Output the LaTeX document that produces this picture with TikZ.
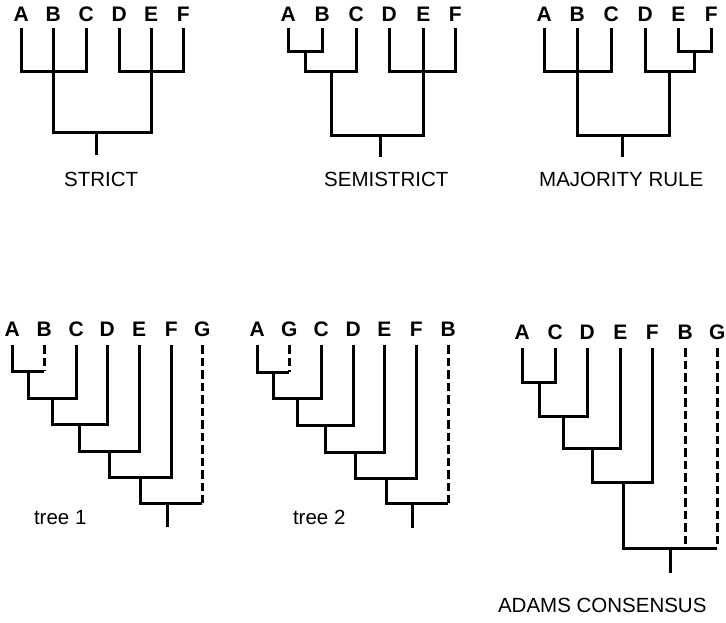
\documentclass[tikz,border=0pt]{standalone}
\usepackage{fontspec}
\setmainfont{Liberation Sans}

\begin{document}
\begin{tikzpicture}[x=1pt, y=-1pt,
    line width=2.5pt,
    font=\fontsize{20.5}{24}\selectfont,
    taxon/.style={font=\fontsize{21}{24}\selectfont\bfseries,
      anchor=south,
      inner xsep=0pt,
      inner ysep=8pt,
      text depth=0pt},
    toptaxon/.style={taxon, inner ysep=5.5pt},
    title/.style={anchor=base, inner sep=0pt},
    branch/.style={to path={|- (\tikztotarget)}},
    missing/.style={dash pattern=on 8.5pt off 4pt}]
    \path [use as bounding box] (-0.25,-0.25) rectangle (725.75,621.75);

    % strict
    \node[name=stA, toptaxon] at (21,28) {A};
    \node[name=stB, toptaxon] at (53,28) {B};
    \node[name=stC, toptaxon] at (86,28) {C};
    \node[name=stD, toptaxon] at (119,28) {D};
    \node[name=stE, toptaxon] at (151,28) {E};
    \node[name=stF, toptaxon] at (183,28) {F};
    \coordinate (stabc) at (53,71);
    \coordinate (stdef) at (151,71);
    \coordinate (stroot) at (96,132);
    \coordinate (stbase) at (96,155);
    \node[name=sttitle, title] at (101,186) {STRICT};

    \path (stA.south) edge[branch] (stabc);
    \path (stB.south) edge[branch] (stabc);
    \path (stC.south) edge[branch] (stabc);
    \path (stD.south) edge[branch] (stdef);
    \path (stE.south) edge[branch] (stdef);
    \path (stF.south) edge[branch] (stdef);
    \path (stabc) edge[branch] (stroot);
    \path (stdef) edge[branch] (stroot);
    \path (stroot) edge (stbase);

    % semistrict
    \node[name=seA, toptaxon] at (288,28) {A};
    \node[name=seB, toptaxon] at (322,28) {B};
    \node[name=seC, toptaxon] at (356,28) {C};
    \node[name=seD, toptaxon] at (389,28) {D};
    \node[name=seE, toptaxon] at (423,28) {E};
    \node[name=seF, toptaxon] at (455,28) {F};
    \coordinate (seab) at (305,51);
    \coordinate (seabc) at (331,71);
    \coordinate (sedef) at (423,71);
    \coordinate (seroot) at (380,135);
    \coordinate (sebase) at (380,157);
    \node[name=setitle, title] at (386,186) {SEMISTRICT};

    \path (seA.south) edge[branch] (seab);
    \path (seB.south) edge[branch] (seab);
    \path (seab) edge[branch] (seabc);
    \path (seC.south) edge[branch] (seabc);
    \path (seD.south) edge[branch] (sedef);
    \path (seE.south) edge[branch] (sedef);
    \path (seF.south) edge[branch] (sedef);
    \path (seabc) edge[branch] (seroot);
    \path (sedef) edge[branch] (seroot);
    \path (seroot) edge (sebase);

    % majority rule
    \node[name=mjA, toptaxon] at (544,28) {A};
    \node[name=mjB, toptaxon] at (577,28) {B};
    \node[name=mjC, toptaxon] at (611,28) {C};
    \node[name=mjD, toptaxon] at (645,28) {D};
    \node[name=mjE, toptaxon] at (678,28) {E};
    \node[name=mjF, toptaxon] at (711,28) {F};
    \coordinate (mjabc) at (577,71);
    \coordinate (mjef) at (694,51);
    \coordinate (mjdef) at (669,71);
    \coordinate (mjroot) at (622,135);
    \coordinate (mjbase) at (622,157);
    \node[name=mjtitle, title] at (621,186) {MAJORITY RULE};

    \path (mjA.south) edge[branch] (mjabc);
    \path (mjB.south) edge[branch] (mjabc);
    \path (mjC.south) edge[branch] (mjabc);
    \path (mjE.south) edge[branch] (mjef);
    \path (mjF.south) edge[branch] (mjef);
    \path (mjD.south) edge[branch] (mjdef);
    \path (mjef) edge[branch] (mjdef);
    \path (mjabc) edge[branch] (mjroot);
    \path (mjdef) edge[branch] (mjroot);
    \path (mjroot) edge (mjbase);

    % tree 1
    \node[name=oneA, taxon] at (12,345) {A};
    \node[name=oneB, taxon] at (44,345) {B};
    \node[name=oneC, taxon] at (76,345) {C};
    \node[name=oneD, taxon] at (107,345) {D};
    \node[name=oneE, taxon] at (139,345) {E};
    \node[name=oneF, taxon] at (171,345) {F};
    \node[name=oneG, taxon] at (202,345) {G};
    \coordinate (oneab) at (28,371);
    \coordinate (oneabc) at (52,398);
    \coordinate (oneabcd) at (79,424);
    \coordinate (oneabcde) at (109,451);
    \coordinate (oneabcdef) at (140,477);
    \coordinate (oneroot) at (167,503);
    \coordinate (onebase) at (167,527);
    \coordinate (oneBend) at (oneB.south |- oneab);
    \coordinate (oneGend) at (oneG.south |- oneroot);
    \node[name=onetitle, title] at (60,524) {tree 1};

    \path (oneA.south) edge[branch] (oneab);
    \path (oneB.south) edge[missing] (oneBend);
    \path (oneBend) edge[branch] (oneab);
    \path (oneab) edge[branch] (oneabc);
    \path (oneC.south) edge[branch] (oneabc);
    \path (oneabc) edge[branch] (oneabcd);
    \path (oneD.south) edge[branch] (oneabcd);
    \path (oneabcd) edge[branch] (oneabcde);
    \path (oneE.south) edge[branch] (oneabcde);
    \path (oneabcde) edge[branch] (oneabcdef);
    \path (oneF.south) edge[branch] (oneabcdef);
    \path (oneabcdef) edge[branch] (oneroot);
    \path (oneG.south) edge[missing] (oneGend);
    \path (oneGend) edge[branch] (oneroot);
    \path (oneroot) edge (onebase);

    % tree 2
    \node[name=twoA, taxon] at (257,345) {A};
    \node[name=twoG, taxon] at (289,345) {G};
    \node[name=twoC, taxon] at (321,345) {C};
    \node[name=twoD, taxon] at (353,345) {D};
    \node[name=twoE, taxon] at (384,345) {E};
    \node[name=twoF, taxon] at (416,345) {F};
    \node[name=twoB, taxon] at (448,345) {B};
    \coordinate (twoag) at (273,372);
    \coordinate (twoagc) at (297,398);
    \coordinate (twoagcd) at (325,425);
    \coordinate (twoagcde) at (355,452);
    \coordinate (twoagcdef) at (386,478);
    \coordinate (tworoot) at (412,503);
    \coordinate (twobase) at (412,528);
    \coordinate (twoGend) at (twoG.south |- twoag);
    \coordinate (twoBend) at (twoB.south |- tworoot);
    \node[name=twotitle, title] at (319,524) {tree 2};

    \path (twoA.south) edge[branch] (twoag);
    \path (twoG.south) edge[missing] (twoGend);
    \path (twoGend) edge[branch] (twoag);
    \path (twoag) edge[branch] (twoagc);
    \path (twoC.south) edge[branch] (twoagc);
    \path (twoagc) edge[branch] (twoagcd);
    \path (twoD.south) edge[branch] (twoagcd);
    \path (twoagcd) edge[branch] (twoagcde);
    \path (twoE.south) edge[branch] (twoagcde);
    \path (twoagcde) edge[branch] (twoagcdef);
    \path (twoF.south) edge[branch] (twoagcdef);
    \path (twoagcdef) edge[branch] (tworoot);
    \path (twoB.south) edge[missing] (twoBend);
    \path (twoBend) edge[branch] (tworoot);
    \path (tworoot) edge (twobase);

    % adams consensus
    \node[name=adA, taxon] at (522,348) {A};
    \node[name=adC, taxon] at (555,348) {C};
    \node[name=adD, taxon] at (587,348) {D};
    \node[name=adE, taxon] at (620,348) {E};
    \node[name=adF, taxon] at (652,348) {F};
    \node[name=adB, taxon] at (685,348) {B};
    \node[name=adG, taxon] at (717,348) {G};
    \coordinate (adac) at (539,382);
    \coordinate (adacd) at (563,416);
    \coordinate (adacde) at (592,448);
    \coordinate (adacdef) at (623,482);
    \coordinate (adroot) at (670,548);
    \coordinate (adbase) at (670,573);
    \coordinate (adBend) at (adB.south |- adroot);
    \coordinate (adGend) at (adG.south |- adroot);
    \node[name=adtitle, title] at (602,612) {ADAMS CONSENSUS};

    \path (adA.south) edge[branch] (adac);
    \path (adC.south) edge[branch] (adac);
    \path (adac) edge[branch] (adacd);
    \path (adD.south) edge[branch] (adacd);
    \path (adacd) edge[branch] (adacde);
    \path (adE.south) edge[branch] (adacde);
    \path (adacde) edge[branch] (adacdef);
    \path (adF.south) edge[branch] (adacdef);
    \path (adacdef) edge[branch] (adroot);
    \path (adB.south) edge[missing] (adBend);
    \path (adG.south) edge[missing] (adGend);
    \path (adGend) edge[branch] (adroot);
    \path (adroot) edge (adbase);
\end{tikzpicture}
\end{document}
